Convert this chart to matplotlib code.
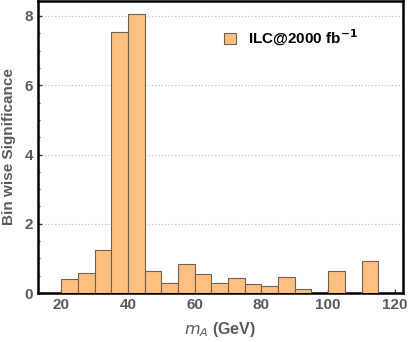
import numpy as np
import matplotlib.pyplot as plt
from matplotlib.ticker import MultipleLocator

bin_left = [20, 25, 30, 35, 40, 45, 50, 55, 60, 65, 70, 75, 80, 85, 90, 95, 100, 105, 110]
significance = [0.40, 0.59, 1.25, 7.53, 8.05, 0.645, 0.28, 0.84, 0.56, 0.28,
                0.43, 0.25, 0.21, 0.47, 0.125, 0.0, 0.645, 0.0, 0.925]
bin_width = 5
x_ticks = [20, 40, 60, 80, 100, 120]
y_ticks = [0, 2, 4, 6, 8]
label = "ILC@2000 fb$^{\\mathbf{-1}}$"

gray = "#5a5a5a"
plt.rcParams["font.family"] = ["Liberation Sans", "DejaVu Sans"]

fig = plt.figure(figsize=(4.09, 3.42), dpi=100)
ax = fig.add_axes([0.093, 0.143, 0.892, 0.854])

heights = np.array(significance)
mask = heights > 0
ax.bar(np.array(bin_left)[mask], heights[mask], width=bin_width, align="edge",
       color="#ffbf7f", edgecolor="#6e6258", linewidth=0.8, label=label, zorder=3)

ax.set_xlim(13, 122.4)
ax.set_ylim(0, 8.43)
ax.set_xticks(x_ticks)
ax.set_yticks(y_ticks)
ax.yaxis.set_minor_locator(MultipleLocator(0.5))
ax.grid(axis="y", linestyle=(0, (1, 2)), color="#b8b8b8", linewidth=0.8, zorder=0)

for s in ax.spines.values():
    s.set_linewidth(1.8)
    s.set_color("black")

ax.tick_params(axis="both", which="major", direction="in", length=3, width=1,
               color="#444444", labelcolor=gray, labelsize=11)
ax.tick_params(axis="y", which="minor", direction="in", length=1.5, width=0.8,
               color="#444444")
for t in ax.get_xticklabels() + ax.get_yticklabels():
    t.set_fontweight("bold")

ax.set_xlabel("$m_A$ (GeV)", color=gray, fontsize=11.5, fontweight="bold", labelpad=6)
ax.set_ylabel("Bin wise Significance", color=gray, fontsize=11, fontweight="bold", labelpad=6)

leg = ax.legend(loc="upper left", bbox_to_anchor=(0.472, 0.955), frameon=False,
                prop={"weight": "bold", "size": 11}, handlelength=0.8,
                handleheight=0.8, handletextpad=0.8)

fig.savefig("out.png", dpi=100)
